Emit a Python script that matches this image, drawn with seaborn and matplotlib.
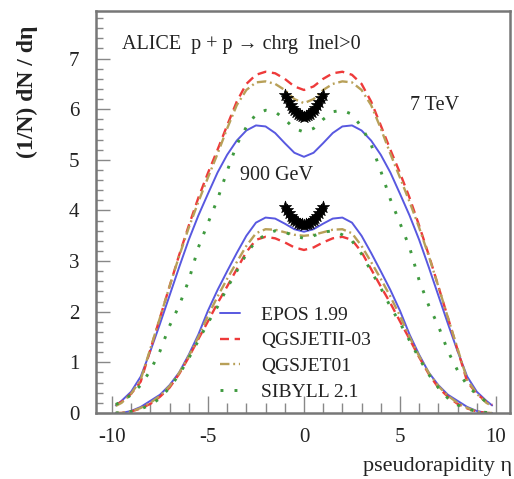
import matplotlib
matplotlib.use("Agg")
import matplotlib.pyplot as plt
import pandas as pd
import seaborn as sns
from matplotlib.lines import Line2D
from matplotlib.ticker import MultipleLocator

# pseudorapidity grid shared by all model curves
eta = [-9.8, -9.5, -9.0, -8.5, -8.0, -7.5, -7.0, -6.5, -6.0, -5.5, -5.0,
       -4.5, -4.0, -3.5, -3.0, -2.5, -2.0, -1.5, -1.0, -0.5, 0.0,
       0.5, 1.0, 1.5, 2.0, 2.5, 3.0, 3.5, 4.0, 4.5, 5.0,
       5.5, 6.0, 6.5, 7.0, 7.5, 8.0, 8.5, 9.0, 9.5, 9.8]

# 7 TeV model predictions
epos_7tev = [0.15, 0.24, 0.42, 0.72, 1.22, 1.76, 2.32, 2.88, 3.42, 3.90, 4.33,
             4.75, 5.10, 5.38, 5.58, 5.68, 5.66, 5.53, 5.33, 5.14, 5.06,
             5.14, 5.33, 5.53, 5.66, 5.68, 5.58, 5.38, 5.10, 4.75, 4.33,
             3.90, 3.42, 2.88, 2.32, 1.76, 1.22, 0.72, 0.42, 0.24, 0.15]
qgsjetii_7tev = [0.16, 0.22, 0.38, 0.62, 1.25, 1.88, 2.50, 3.12, 3.70, 4.25, 4.74,
                 5.20, 5.68, 6.15, 6.50, 6.68, 6.74, 6.71, 6.60, 6.45, 6.38,
                 6.45, 6.60, 6.71, 6.74, 6.68, 6.50, 6.15, 5.68, 5.20, 4.74,
                 4.25, 3.70, 3.12, 2.50, 1.88, 1.25, 0.62, 0.38, 0.22, 0.16]
qgsjet01_7tev = [0.14, 0.20, 0.38, 0.66, 1.27, 1.88, 2.50, 3.10, 3.66, 4.17, 4.65,
                 5.12, 5.62, 6.08, 6.38, 6.53, 6.55, 6.50, 6.38, 6.20, 6.12,
                 6.20, 6.38, 6.50, 6.55, 6.53, 6.38, 6.08, 5.62, 5.12, 4.65,
                 4.17, 3.66, 3.10, 2.50, 1.88, 1.27, 0.66, 0.38, 0.20, 0.14]
sibyll_7tev = [0.17, 0.22, 0.36, 0.55, 0.84, 1.22, 1.72, 2.12, 2.62, 3.27, 3.75,
               4.22, 4.78, 5.30, 5.65, 5.90, 5.98, 5.95, 5.80, 5.62, 5.55,
               5.62, 5.80, 5.95, 5.98, 5.90, 5.65, 5.30, 4.78, 4.22, 3.75,
               3.27, 2.62, 2.12, 1.72, 1.22, 0.84, 0.55, 0.36, 0.22, 0.17]

# 900 GeV model predictions
epos_900 = [0.00, 0.00, 0.04, 0.12, 0.24, 0.36, 0.55, 0.80, 1.15, 1.55, 2.02,
            2.43, 2.80, 3.16, 3.50, 3.76, 3.86, 3.84, 3.74, 3.63, 3.58,
            3.63, 3.74, 3.84, 3.86, 3.76, 3.50, 3.16, 2.80, 2.43, 2.02,
            1.55, 1.15, 0.80, 0.55, 0.36, 0.24, 0.12, 0.04, 0.00, 0.00]
qgsjetii_900 = [0.00, 0.00, 0.03, 0.09, 0.18, 0.32, 0.50, 0.77, 1.10, 1.46, 1.81,
                2.17, 2.50, 2.84, 3.18, 3.42, 3.48, 3.45, 3.37, 3.27, 3.22,
                3.27, 3.37, 3.45, 3.48, 3.42, 3.18, 2.84, 2.50, 2.17, 1.81,
                1.46, 1.10, 0.77, 0.50, 0.32, 0.18, 0.09, 0.03, 0.00, 0.00]
qgsjet01_900 = [0.00, 0.00, 0.03, 0.10, 0.20, 0.34, 0.53, 0.79, 1.12, 1.50, 1.92,
                2.30, 2.65, 2.98, 3.30, 3.55, 3.63, 3.62, 3.57, 3.52, 3.50,
                3.52, 3.57, 3.62, 3.63, 3.55, 3.30, 2.98, 2.65, 2.30, 1.92,
                1.50, 1.12, 0.79, 0.53, 0.34, 0.20, 0.10, 0.03, 0.00, 0.00]
sibyll_900 = [0.00, 0.01, 0.03, 0.08, 0.16, 0.29, 0.50, 0.76, 1.08, 1.43, 1.78,
              2.10, 2.47, 2.80, 3.14, 3.40, 3.52, 3.60, 3.57, 3.50, 3.45,
              3.50, 3.57, 3.60, 3.52, 3.40, 3.14, 2.80, 2.47, 2.10, 1.78,
              1.43, 1.08, 0.76, 0.50, 0.29, 0.16, 0.08, 0.03, 0.01, 0.00]

# ALICE measurements, |eta| < 1
eta_alice = [-1.0, -0.9, -0.8, -0.7, -0.6, -0.5, -0.4, -0.3, -0.2, -0.1, 0.0,
             0.1, 0.2, 0.3, 0.4, 0.5, 0.6, 0.7, 0.8, 0.9, 1.0]
alice_7tev = [6.28, 6.22, 6.15, 6.09, 6.03, 5.98, 5.94, 5.90, 5.88, 5.86, 5.85,
              5.86, 5.88, 5.90, 5.94, 5.98, 6.03, 6.09, 6.15, 6.22, 6.28]
alice_900 = [4.07, 4.01, 3.95, 3.90, 3.86, 3.82, 3.79, 3.76, 3.74, 3.73, 3.72,
             3.73, 3.74, 3.76, 3.79, 3.82, 3.86, 3.90, 3.95, 4.01, 4.07]

models = ["EPOS 1.99", "QGSJETII-03", "QGSJET01", "SIBYLL 2.1"]
curves_7tev = [epos_7tev, qgsjetii_7tev, qgsjet01_7tev, sibyll_7tev]
curves_900 = [epos_900, qgsjetii_900, qgsjet01_900, sibyll_900]

colors = {"EPOS 1.99": "#5858e0", "QGSJETII-03": "#ee3a3a",
          "QGSJET01": "#b8a058", "SIBYLL 2.1": "#3f9a3f"}
styles = {"EPOS 1.99": dict(linestyle="-", linewidth=1.4),
          "QGSJETII-03": dict(linestyle=(0, (3.8, 2.4)), linewidth=1.7),
          "QGSJET01": dict(linestyle=(0, (4.0, 1.6, 0.8, 1.6)), linewidth=1.7),
          "SIBYLL 2.1": dict(linestyle=(0, (1.0, 3.8)), linewidth=2.1)}

rows = []
for name, c7, c9 in zip(models, curves_7tev, curves_900):
    for energy, vals in (("7 TeV", c7), ("900 GeV", c9)):
        for e, v in zip(eta, vals):
            rows.append({"eta": e, "dndeta": v, "model": name, "energy": energy})
df = pd.DataFrame(rows)

sns.set_theme(style="ticks")
plt.rcParams["font.family"] = ["Liberation Serif", "DejaVu Serif"]

fig = plt.figure(figsize=(5.14, 4.79), dpi=100)
ax = fig.add_axes([96 / 514, 1 - 413 / 479, (510 - 96) / 514, (413 - 11) / 479])

for name in models:
    for energy in ("7 TeV", "900 GeV"):
        sub = df[(df.model == name) & (df.energy == energy)]
        sns.lineplot(data=sub, x="eta", y="dndeta", ax=ax, color=colors[name],
                     estimator=None, sort=False, legend=False,
                     **styles[name])

for vals in (alice_7tev, alice_900):
    ax.errorbar(eta_alice, vals, yerr=0.08, fmt="none", ecolor="black",
                elinewidth=0.8, zorder=5)
    sns.scatterplot(x=eta_alice, y=vals, ax=ax, marker="*", s=85,
                    color="black", edgecolor="black", linewidth=0.5,
                    legend=False, zorder=6)

ax.set_xlim(-10.83, 10.73)
ax.set_ylim(0, 7.94)
ax.set_xlabel("")
ax.set_ylabel("")

ax.xaxis.set_major_locator(MultipleLocator(5))
ax.xaxis.set_minor_locator(MultipleLocator(1))
ax.yaxis.set_major_locator(MultipleLocator(1))
ax.yaxis.set_minor_locator(MultipleLocator(0.2))
ax.xaxis.set_major_formatter(plt.FuncFormatter(lambda v, p: f"{v:.0f}"))
ax.yaxis.set_major_formatter(plt.FuncFormatter(lambda v, p: f"{v:.0f}"))

ax.tick_params(axis="both", which="both", direction="in", color="#888888",
               top=False, right=False)
ax.tick_params(axis="x", which="major", length=12, width=1.0, labelsize=15,
               pad=11, labelcolor="#222222")
ax.tick_params(axis="x", which="minor", length=7, width=1.0)
ax.tick_params(axis="y", which="major", length=10, width=1.0, labelsize=15,
               pad=12, labelcolor="#222222")
ax.tick_params(axis="y", which="minor", length=5, width=1.0)
for sp in ax.spines.values():
    sp.set_color("#777777")
    sp.set_linewidth(1.8)

fig.text(122 / 514, 1 - 45 / 479, "ALICE  p + p \u2192 chrg  Inel>0",
         fontsize=14.5, ha="left", va="center", color="#222222")
fig.text(435 / 514, 1 - 105 / 479, "7 TeV", fontsize=14.5, ha="center",
         va="center", color="#222222")
fig.text(276 / 514, 1 - 176 / 479, "900 GeV", fontsize=14.5, ha="center",
         va="center", color="#222222")
fig.text(27 / 514, 1 - 92 / 479, "(1/N) dN / d\u03b7", fontsize=17,
         rotation=90, ha="center", va="center", color="#222222",
         fontweight="bold")
fig.text(512 / 514, 1 - 467 / 479, "pseudorapidity \u03b7", fontsize=16,
         ha="right", va="center", color="#222222")

handles = [Line2D([], [], color=colors[m], **styles[m]) for m in models]
leg = ax.legend(handles, models, loc="upper left",
                bbox_to_anchor=((220 - 96) / 414, (413 - 306) / 402),
                frameon=False, fontsize=14, handlelength=1.05,
                handletextpad=1.05, labelspacing=0.42, borderpad=0,
                borderaxespad=0)
for t in leg.get_texts():
    t.set_color("#222222")

fig.savefig("out.png", dpi=100, facecolor="white")
